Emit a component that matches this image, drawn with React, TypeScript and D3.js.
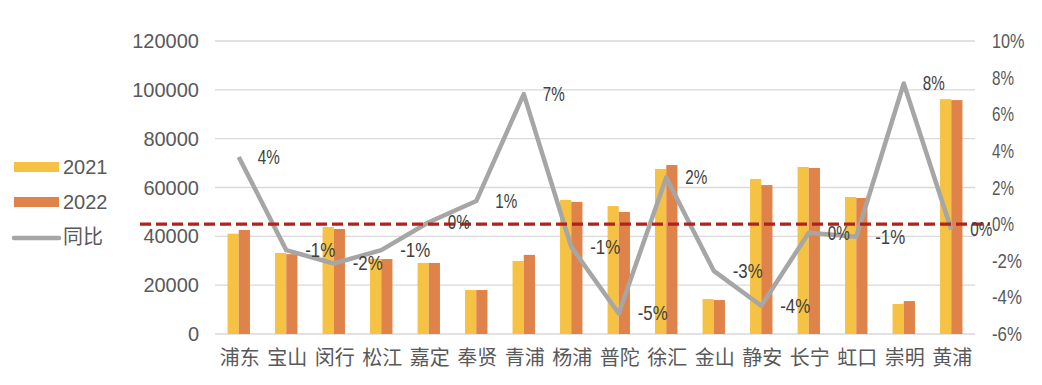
import React, { useRef, useEffect } from 'react';
import * as d3 from 'd3';

const categories = ['浦东', '宝山', '闵行', '松江', '嘉定', '奉贤', '青浦', '杨浦', '普陀', '徐汇', '金山', '静安', '长宁', '虹口', '崇明', '黄浦'];
const values2021 = [41100, 33200, 43800, 30800, 29100, 18000, 29900, 54900, 52400, 67600, 14300, 63500, 68400, 56100, 12300, 96200];
const values2022 = [42600, 32700, 43000, 30700, 29100, 18000, 32400, 54100, 50000, 69200, 13900, 61000, 68000, 55700, 13500, 95800];
const yoy = [3.67, -1.42, -2.15, -1.42, 0.1, 1.26, 7.1, -1.24, -4.88, 2.55, -2.55, -4.46, -0.47, -0.69, 7.68, -0.29];
const yoyLabels = ['4%', '-1%', '-2%', '-1%', '0%', '1%', '7%', '-1%', '-5%', '2%', '-3%', '-4%', '0%', '-1%', '8%', '0%'];
const leftTicks = [0, 20000, 40000, 60000, 80000, 100000, 120000];
const rightTicks = [-6, -4, -2, 0, 2, 4, 6, 8, 10];

const W = 1042;
const H = 385;
const FONT = '"Liberation Sans", Arial, "Noto Sans CJK SC", sans-serif';
const C2021 = '#F5C243';
const C2022 = '#E0834A';
const CLINE = '#A6A6A6';
const CDASH = '#B2221A';

// narrow percent glyphs in the original
const pctWidth = (s: string) =>
  s.split('').reduce((w, ch) => w + (ch === '%' ? 11.5 : ch === '-' ? 8 : 10.5), 0);

export default function App() {
  const svgRef = useRef<SVGSVGElement>(null);

  useEffect(() => {
    const svg = d3.select(svgRef.current);
    svg.selectAll('*').remove();

    const x = d3.scaleBand().domain(categories).range([215, 975]).padding(0);
    const y = d3.scaleLinear().domain([0, 120000]).range([334, 41]);
    const y2 = d3.scaleLinear().domain([-6, 10]).range([334, 41]);
    const barW = 11.2;
    const cx = (c: string) => (x(c) as number) + x.bandwidth() / 2;

    // gridlines
    svg
      .append('g')
      .selectAll('line')
      .data(leftTicks)
      .enter()
      .append('line')
      .attr('x1', 215)
      .attr('x2', 975)
      .attr('y1', (d) => y(d))
      .attr('y2', (d) => y(d))
      .attr('stroke', '#D9D9D9')
      .attr('stroke-width', 1.3);

    // left axis labels
    svg
      .append('g')
      .selectAll('text')
      .data(leftTicks)
      .enter()
      .append('text')
      .attr('x', 199)
      .attr('y', (d) => y(d))
      .attr('dy', '0.35em')
      .attr('text-anchor', 'end')
      .attr('font-family', FONT)
      .attr('font-size', 20)
      .attr('fill', '#595959')
      .text((d) => String(d));

    // right axis labels
    svg
      .append('g')
      .selectAll('text')
      .data(rightTicks)
      .enter()
      .append('text')
      .attr('x', 992)
      .attr('y', (d) => y2(d))
      .attr('dy', '0.35em')
      .attr('font-family', FONT)
      .attr('font-size', 20)
      .attr('fill', '#595959')
      .attr('textLength', (d) => pctWidth(`${d}%`))
      .attr('lengthAdjust', 'spacingAndGlyphs')
      .text((d) => `${d}%`);

    // bars
    const bars = svg.append('g');
    bars
      .selectAll('.b21')
      .data(categories)
      .enter()
      .append('rect')
      .attr('x', (c) => cx(c) - barW)
      .attr('y', (c, i) => y(values2021[i]))
      .attr('width', barW)
      .attr('height', (c, i) => y(0) - y(values2021[i]))
      .attr('fill', C2021);
    bars
      .selectAll('.b22')
      .data(categories)
      .enter()
      .append('rect')
      .attr('x', (c) => cx(c))
      .attr('y', (c, i) => y(values2022[i]))
      .attr('width', barW)
      .attr('height', (c, i) => y(0) - y(values2022[i]))
      .attr('fill', C2022);

    // yoy line
    const line = d3
      .line<number>()
      .x((d, i) => cx(categories[i]))
      .y((d) => y2(d));
    svg
      .append('path')
      .attr('d', line(yoy))
      .attr('fill', 'none')
      .attr('stroke', CLINE)
      .attr('stroke-width', 4.5)
      .attr('stroke-linejoin', 'round');

    // zero reference line
    svg
      .append('line')
      .attr('x1', 140)
      .attr('x2', 990)
      .attr('y1', y2(0))
      .attr('y2', y2(0))
      .attr('stroke', CDASH)
      .attr('stroke-width', 3.2)
      .attr('stroke-dasharray', '11 5');

    // data labels
    svg
      .append('g')
      .selectAll('text')
      .data(yoyLabels)
      .enter()
      .append('text')
      .attr('x', (d, i) => cx(categories[i]) + 19)
      .attr('y', (d, i) => y2(yoy[i]))
      .attr('dy', '0.35em')
      .attr('font-family', FONT)
      .attr('font-size', 20)
      .attr('fill', '#404040')
      .attr('textLength', (d) => pctWidth(d))
      .attr('lengthAdjust', 'spacingAndGlyphs')
      .text((d) => d);

    // category labels
    svg
      .append('g')
      .selectAll('text')
      .data(categories)
      .enter()
      .append('text')
      .attr('x', (c) => cx(c) + 1)
      .attr('y', 358)
      .attr('dy', '0.35em')
      .attr('text-anchor', 'middle')
      .attr('font-family', '"Noto Sans CJK SC", sans-serif')
      .attr('font-size', 20)
      .attr('fill', '#595959')
      .text((c) => c);

    // legend
    const legend = svg.append('g');
    legend.append('rect').attr('x', 14).attr('y', 162).attr('width', 45).attr('height', 10).attr('fill', C2021);
    legend.append('rect').attr('x', 14).attr('y', 197).attr('width', 45).attr('height', 10).attr('fill', C2022);
    legend
      .append('line')
      .attr('x1', 14)
      .attr('x2', 59)
      .attr('y1', 238)
      .attr('y2', 238)
      .attr('stroke', CLINE)
      .attr('stroke-width', 4.5)
      .attr('stroke-linecap', 'round');
    const legendItems = [
      { label: '2021', y: 167 },
      { label: '2022', y: 202 },
      { label: '同比', y: 237 },
    ];
    legend
      .selectAll('text')
      .data(legendItems)
      .enter()
      .append('text')
      .attr('x', 63)
      .attr('y', (d) => d.y)
      .attr('dy', '0.35em')
      .attr('font-family', FONT)
      .attr('font-size', 20)
      .attr('fill', '#595959')
      .text((d) => d.label);
  }, []);

  return (
    <svg
      ref={svgRef}
      width={W}
      height={H}
      style={{ position: 'absolute', left: 0, top: 0, background: '#fff' }}
    />
  );
}
